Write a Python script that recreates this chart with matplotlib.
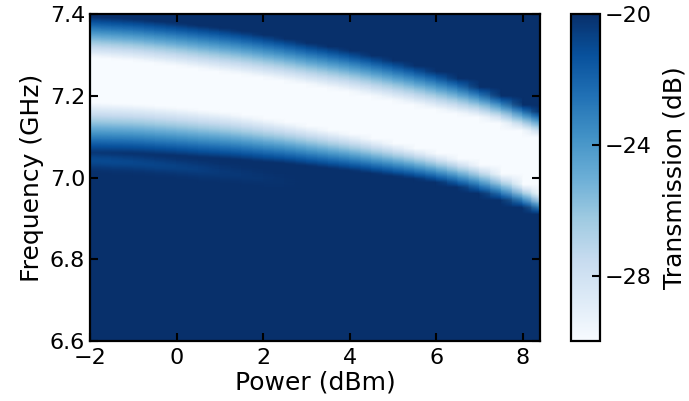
import numpy as np
import matplotlib
matplotlib.use("Agg")
from matplotlib import pyplot as plt

# per drive power (dBm)
power = [-2.0, -1.5, -1.0, -0.5, 0.0, 0.5, 1.0, 1.5, 2.0, 2.5, 3.0,
         3.5, 4.0, 4.5, 5.0, 5.5, 6.0, 6.5, 7.0, 7.5, 8.0, 8.4]
# centre of the white dip (GHz)
f_center = [7.238, 7.235, 7.232, 7.227, 7.222, 7.216, 7.210, 7.203, 7.195,
            7.187, 7.178, 7.169, 7.160, 7.149, 7.138, 7.127, 7.115, 7.103,
            7.090, 7.072, 7.050, 7.031]
# half width of the white part (GHz)
half_w = [0.072, 0.071, 0.070, 0.069, 0.068, 0.067, 0.066, 0.066, 0.066,
          0.066, 0.066, 0.066, 0.066, 0.066, 0.066, 0.066, 0.066, 0.067,
          0.069, 0.072, 0.075, 0.078]
# distance from white to dark blue above / below the dip (GHz)
ramp_top = [0.080, 0.081, 0.082, 0.083, 0.084, 0.085, 0.086, 0.085, 0.084,
            0.083, 0.082, 0.082, 0.081, 0.080, 0.079, 0.077, 0.075, 0.070,
            0.060, 0.054, 0.051, 0.050]
ramp_bot = [0.098, 0.097, 0.096, 0.095, 0.094, 0.093, 0.091, 0.088, 0.085,
            0.081, 0.078, 0.075, 0.072, 0.068, 0.064, 0.060, 0.057, 0.056,
            0.056, 0.052, 0.045, 0.040]
# faint second dip below the main one (low power only), dB
shelf_depth = [1.0, 1.0, 0.9, 0.8, 0.7, 0.6, 0.4, 0.3, 0.2, 0.1, 0.0,
               0.0, 0.0, 0.0, 0.0, 0.0, 0.0, 0.0, 0.0, 0.0, 0.0, 0.0]

freq = np.linspace(6.6, 7.4, 401)

P = np.array(power)
F = freq[:, None]
fc = np.array(f_center)[None, :]
hw = np.array(half_w)[None, :]
s_top = (F - fc - hw) / np.array(ramp_top)[None, :]
s_bot = (fc - hw - F) / np.array(ramp_bot)[None, :]
s = np.maximum(s_top, s_bot)
trans = np.clip(-28.5 + 8.0 * s, -30.0, -20.0)
trans = trans - np.array(shelf_depth)[None, :] * np.exp(-((F - (fc - 0.195)) / 0.018) ** 2)

fig = plt.figure(figsize=(6.89, 4.01), dpi=100)
ax = fig.add_axes([0.1306, 0.1496, 0.653, 0.8155])
cax = fig.add_axes([0.8287, 0.1496, 0.042, 0.8155])

mesh = ax.pcolormesh(P, freq, trans, cmap="Blues", vmin=-30, vmax=-20,
                     shading="gouraud", rasterized=True)
ax.set_xlim(-2, 8.4)
ax.set_ylim(6.6, 7.4)
ax.set_xticks([-2, 0, 2, 4, 6, 8])
ax.set_yticks([6.6, 6.8, 7.0, 7.2, 7.4])
ax.set_xlabel("Power (dBm)", fontsize=18, labelpad=2)
ax.set_ylabel("Frequency (GHz)", fontsize=18)
ax.tick_params(direction="in", top=True, right=True, length=6, width=1.5,
               labelsize=16)
ax.tick_params(axis="x", pad=5)
for sp in ax.spines.values():
    sp.set_linewidth(1.6)

cb = fig.colorbar(mesh, cax=cax)
cb.set_ticks([-20, -24, -28])
cb.ax.tick_params(direction="in", length=6, width=1.5, labelsize=16)
cb.outline.set_linewidth(1.6)
cb.set_label("Transmission (dB)", fontsize=18, labelpad=8)

plt.savefig("out.png", dpi=100)
